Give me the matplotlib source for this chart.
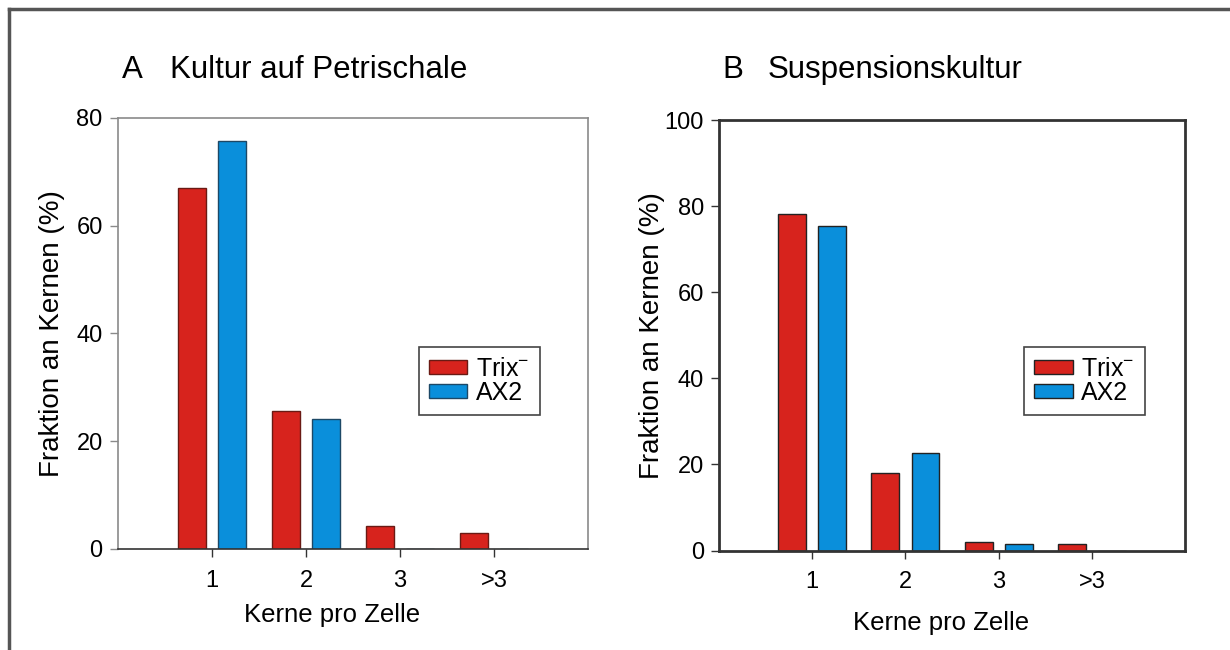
import matplotlib.pyplot as plt
import matplotlib.lines as mlines
import numpy as np
from matplotlib import font_manager

plt.rcParams['font.family'] = ['Liberation Sans', 'DejaVu Sans']
plt.rcParams['mathtext.default'] = 'regular'

# Daten
kategorien = ['1', '2', '3', '>3']
trix_a = [67.0, 25.7, 4.2, 3.0]
ax2_a = [75.8, 24.2, 0.0, 0.0]
trix_b = [78.2, 18.1, 2.1, 1.5]
ax2_b = [75.5, 22.7, 1.6, 0.0]

rot = '#d7231d'
blau = '#0a8fdb'

namen = [f.name for f in font_manager.fontManager.ttflist]
schmal = 'Liberation Sans Narrow' if 'Liberation Sans Narrow' in namen else 'Liberation Sans'

fig = plt.figure(figsize=(12.3, 6.5), dpi=100)
fig.patch.set_facecolor('white')

x = np.arange(1, len(kategorien) + 1)
breite = 0.3
versatz = 0.215


def panel(pos, trix, ax2, ymax, yticks, spine_col, spine_lw, edge_r, edge_b, leg_anchor,
          ylab_font, ylab_x, xlab_x, xlab_y):
    ax = fig.add_axes(pos)
    ax.bar(x - versatz, trix, breite, color=rot, edgecolor=edge_r, linewidth=1.0, label='Trix$^{-}$', zorder=2)
    ax.bar(x + versatz, ax2, breite, color=blau, edgecolor=edge_b, linewidth=1.0, label='AX2', zorder=2)
    ax.set_xlim(0, 5)
    ax.set_ylim(0, ymax)
    ax.set_yticks(yticks)
    ax.set_xticks(x)
    ax.set_xticklabels(kategorien)
    for s in ax.spines.values():
        s.set_color(spine_col)
        s.set_linewidth(spine_lw)
    ax.spines['bottom'].set_color('#333333')
    ax.tick_params(axis='y', direction='out', length=6, width=1, color=spine_col, labelsize=17, pad=5)
    ax.tick_params(axis='x', direction='out', length=6, width=1, color='#333333', labelsize=17, pad=9)
    ax.set_xlabel('Kerne pro Zelle', fontsize=18.5)
    ax.set_ylabel('Fraktion an Kernen (%)', fontsize=20, family=ylab_font)
    ax.xaxis.set_label_coords(xlab_x, xlab_y)
    ax.yaxis.set_label_coords(ylab_x, 0.5)
    leg = ax.legend(loc='upper left', bbox_to_anchor=leg_anchor, borderaxespad=0, fontsize=18,
                    handlelength=1.55, handleheight=0.5, handletextpad=0.35, labelspacing=0.0,
                    borderpad=0.4, fancybox=False, framealpha=1)
    leg.get_frame().set_edgecolor('#444444')
    leg.get_frame().set_linewidth(1.2)
    return ax


panel([0.0959, 0.1554, 0.3821, 0.6631], trix_a, ax2_a, 80, [0, 20, 40, 60, 80],
      '#8a8a8a', 1.2, '#6a1a14', '#1d4866', (0.64, 0.469), 'Liberation Sans', -0.113, 0.455, -0.125)
panel([0.5846, 0.153, 0.3789, 0.6623], trix_b, ax2_b, 100, [0, 20, 40, 60, 80, 100],
      '#333333', 2.0, '#222222', '#222222', (0.654, 0.473), schmal, -0.116, 0.476, -0.14)

# Titel
fig.text(0.0992, 0.88, 'A', fontsize=22.5)
fig.text(0.138, 0.88, 'Kultur auf Petrischale', fontsize=22.5)
fig.text(0.587, 0.88, 'B', fontsize=22.5)
fig.text(0.624, 0.88, 'Suspensionskultur', fontsize=22.5)

# Rahmen
fig.add_artist(mlines.Line2D([0.0075, 1.0], [0.9865, 0.9865], color='#555555', lw=2.5))
fig.add_artist(mlines.Line2D([0.0075, 0.0075], [0.0, 0.9865], color='#555555', lw=2.5))

fig.savefig('out.png', dpi=100)
